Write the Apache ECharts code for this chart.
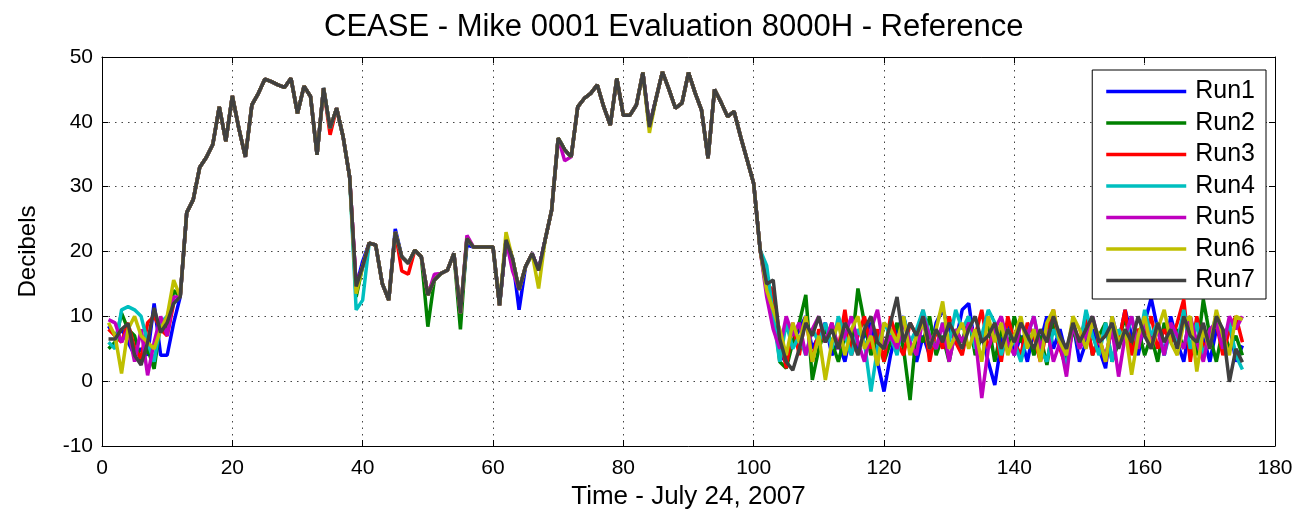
<!DOCTYPE html>
<html>
<head>
<meta charset="utf-8">
<script src="https://cdn.jsdelivr.net/npm/echarts@6/dist/echarts.min.js"></script>
<style>
html,body{margin:0;padding:0;background:#fff;}
#chart{width:1307px;height:522px;}
</style>
</head>
<body>
<div id="chart"></div>
<script>
// ---- data (x = sample index 1..175) ----
const seriesNames = ['Run1','Run2','Run3','Run4','Run5','Run6','Run7'];
const xTicks = [0,20,40,60,80,100,120,140,160,180];
const yTicks = [-10,0,10,20,30,40,50];

// x = 1..11 (individual runs)
const run1Head = [8.5, 7, 8, 6, 4, 5, 4, 12, 4, 4, 9];
const run2Head = [5, 6, 10.5, 8, 7, 3, 5, 1.9, 9, 8, 14];
const run3Head = [8, 7, 6, 9, 5, 3.5, 9, 10, 8, 7, 12];
const run4Head = [6, 5, 11, 11.5, 11, 10, 6, 3, 9, 10, 12];
const run5Head = [9.5, 9, 6, 8, 3, 8, 0.9, 6, 10, 7, 13];
const run6Head = [9, 7, 1.2, 8, 10, 7, 6, 5, 8, 10, 15.6];
const run7Head = [6.5, 6.5, 8, 8.9, 4, 2.5, 6, 11.3, 7.5, 9, 12];

// x = 12..38 (shared by all runs)
const trunk1 = [13, 26, 28, 33, 34.5, 36.5, 42.3, 37, 44, 39, 34.6, 42.6, 44.4, 46.6, 46.2, 45.7, 45.3, 46.7, 41.3, 45.5, 43.9, 34.9, 45.2, 39, 42.1, 37.7, 31.5];
// x = 39..68 (shared, with per-run deviations below)
const mid = [14.6, 17.7, 21.3, 21, 15.1, 12.5, 23, 19.2, 18.2, 20.2, 19.2, 13.3, 15.6, 16.6, 17.1, 19.7, 10.5, 22, 20.7, 20.7, 20.7, 20.7, 11.7, 21.8, 18.9, 14.1, 17.7, 19.7, 17.1, 21.8];
// x = 69..101 (shared)
const trunk2 = [26.4, 37.5, 35.7, 34.6, 42.3, 43.6, 44.4, 45.7, 42.3, 39.5, 46.7, 41, 41, 42.6, 47.6, 39.2, 43.5, 47.7, 45, 42.1, 42.9, 47.6, 44.5, 41.8, 34.4, 45, 43, 40.8, 41.6, 37.7, 34.1, 30.5, 20.2];

// per-run deviations from the shared part: [x, value]
const run1Fix = [[40, 18.5], [45, 23.5], [56, 21], [64, 11]];
const run2Fix = [[39, 13], [50, 8.4], [55, 8], [66, 19.5]];
const run3Fix = [[35, 38], [46, 17], [47, 16.5]];
const run4Fix = [[39, 11], [40, 12.5]];
const run5Fix = [[51, 16.5], [56, 22.5], [63, 17], [71, 34]];
const run6Fix = [[39, 13.5], [62, 23], [67, 14.3], [84, 38.3]];
const run7Fix = [];

// x = 102..175 (individual runs)
const run1Tail = [15, 13, 4, 3, 6, 8, 10, 5, 7, 9,
  4, 6, 3, 8, 5, 7, 9, 3, -1.6, 4,
  8, 10, 6, 3, 7, 4, 9, 11, 8, 6,
  11, 12, 5, 7, 3, -0.6, 6, 9, 4, 7,
  3, 8, 6, 10, 5, 8, 4, 9, 3, 6,
  8, 5, 2, 10, 6, 11, 7, 4, 9, 12.8,
  8, 4, 10, 6, 3, 9, 5, 7, 3, 8,
  6, 9, 3, 5.5];
const run2Tail = [14, 12, 3, 2, 6, 9, 13.3, 0.2, 5, 8,
  6, 3, 7, 5, 14.3, 9, 4, 7, 3, 6,
  9, 5, -2.9, 8, 6, 10, 4, 7, 3, 8,
  6, 10, 4, 7, 9, 3, 8, 5, 10, 6,
  8, 4, 7, 2.5, 9, 6, 3, 8, 5, 10,
  4, 7, 9, 3, 6, 10, 5, 8, 4, 7,
  3, 9, 6, 8, 5, 10, 4, 12.6, 7, 3,
  8, 5, 7, 4];
const run3Tail = [15, 14, 7, 2, 9, 4, 10, 3, 8, 6,
  9, 5, 11, 4, 7, 10, 5, 8, 3, 10,
  6, 4, 9, 7, 11, 3, 8, 5, 10, 6,
  4, 9, 7, 11, 5, 8, 3, 10, 6, 4,
  9, 7, 3, 8, 11, 5, 2, 9, 6, 10,
  4, 7, 3, 9, 6, 11, 4, 8, 7, 10,
  5, 8, 6, 9, 12.6, 3, 10, 5, 7, 9,
  4, 8, 10, 6];
const run4Tail = [17.8, 10, 3, 9, 5, 7, 4, 8, 6, 9,
  5, 10, 7, 4, 8, 6, -1.6, 5, 9, 7,
  4, 10, 6, 8, 11, 7, 5, 9, 6, 11,
  8, 10, 5, 7, 11, 9, 4, 8, 6, 3,
  7, 10, 5, 3, 8, 6, 2, 9, 5, 11,
  7, 4, 9, 3, 8, 6, 10, 5, 11, 7,
  9, 4, 8, 6, 11, 5, 9, 4, 7, 10,
  6, 9, 4, 1.8];
const run5Tail = [13, 8, 5, 10, 7, 9, 4, 8, 10, 6,
  9, 5, 7, 10, 6, 3, 8, 11, 5, 7,
  5, 9, 6, 4, 10, 7, 5, 9, 3, 8,
  6, 9, 7, -2.6, 5, 8, 10, 6, 4, 9,
  7, 10, 5, 8, 3, 6, 0.7, 9, 5, 7,
  10, 6, 4, 8, 0.7, 7, 10, 5, 9, 6,
  8, 4, 9, 7, 5, 10, 6, 3, 8, 9,
  5, 10, 8, 10];
const run6Tail = [14, 11, 8, 4, 9, 6, 10, 3, 7, 0.2,
  6, 9, 4, 8, 10, 5, 7, 2.4, 9, 8,
  6, 10, 4, 7, 9, 5, 8, 12.3, 5, 7,
  9, 5, 8, 3, 10, 6, 9, 4, 7, 10,
  5, 8, 3, 9, 11, 6, 4, 10, 8, 5,
  9, 7, 3, 10, 6, 8, 1, 7, 10, 5,
  8, 11, 6, 4, 9, 10, 1.5, 8, 5, 11,
  7, 4, 10, 9.5];
const run7Tail = [15, 15.6, 6.5, 3, 1.7, 5, 9, 7, 10, 6,
  8, 5, 9, 7, 4, 8, 10, 6, 5, 9,
  13, 6, 9, 7, 10, 5, 8, 6, 9, 7,
  5, 8, 10, 6, 7, 9, 5, 8, 6, 9,
  7, 5, 8, 6, 10, 7, 5, 9, 6, 8,
  10, 6, 7, 9, 5, 8, 6, 10, 7, 5,
  9, 6, 8, 5, 10, 7, 6, 9, 5, 10,
  8, -0.1, 5, 2.9];

const colors = ['#0000ff', '#008000', '#ff0000', '#00bfbf', '#bf00bf', '#bfbf00', '#404040'];

const heads = [run1Head, run2Head, run3Head, run4Head, run5Head, run6Head, run7Head];
const fixes = [run1Fix, run2Fix, run3Fix, run4Fix, run5Fix, run6Fix, run7Fix];
const tails = [run1Tail, run2Tail, run3Tail, run4Tail, run5Tail, run6Tail, run7Tail];

function buildRun(i) {
  const vals = [].concat(heads[i], trunk1, mid, trunk2, tails[i]);
  fixes[i].forEach(function (f) { vals[f[0] - 1] = f[1]; });
  return vals.map(function (v, k) { return [k + 1, v]; });
}

const FONT = '"Liberation Sans", Arial, sans-serif';
const tickStyle = { show: true, inside: true, length: 6, lineStyle: { color: '#000', width: 1 } };
const lineAx = { show: true, onZero: false, lineStyle: { color: '#000', width: 1 } };
const dotted = { show: true, lineStyle: { color: '#444', width: 1, type: [1.5, 5] } };

const chart = echarts.init(document.getElementById('chart'), null, { renderer: 'canvas' });
chart.setOption({
  animation: false,
  backgroundColor: '#fff',
  color: colors,
  title: {
    text: 'CEASE - Mike 0001 Evaluation 8000H - Reference',
    left: 319,
    top: 7,
    textStyle: { fontFamily: FONT, fontSize: 31, fontWeight: 'normal', color: '#000' }
  },
  legend: {
    orient: 'vertical',
    right: 41,
    top: 70,
    padding: [9, 11, 6, 14],
    icon: 'rect',
    itemWidth: 80,
    itemHeight: 3.5,
    itemGap: 6.5,
    backgroundColor: '#fff',
    borderColor: '#000',
    borderWidth: 1,
    borderRadius: 0,
    data: seriesNames,
    textStyle: { fontFamily: FONT, fontSize: 25, color: '#000', padding: [0, 0, 0, 4] }
  },
  grid: { left: 102, right: 32, top: 57, bottom: 76, containLabel: false },
  xAxis: [{
    type: 'value', min: xTicks[0], max: xTicks[xTicks.length - 1], interval: 20,
    name: 'Time - July 24, 2007', nameLocation: 'middle', nameGap: 38,
    nameTextStyle: { fontFamily: FONT, fontSize: 26, color: '#000' },
    axisLine: lineAx, axisTick: tickStyle, splitLine: dotted,
    axisLabel: { fontFamily: FONT, fontSize: 21, color: '#000', margin: 12 }
  }, {
    type: 'value', position: 'top', min: 0, max: 180, interval: 20,
    axisLine: lineAx, axisTick: tickStyle, splitLine: { show: false }, axisLabel: { show: false }
  }],
  yAxis: [{
    type: 'value', min: yTicks[0], max: yTicks[yTicks.length - 1], interval: 10,
    name: 'Decibels', nameLocation: 'middle', nameGap: 62, nameRotate: 90,
    nameTextStyle: { fontFamily: FONT, fontSize: 24, color: '#000' },
    axisLine: lineAx, axisTick: tickStyle, splitLine: dotted,
    axisLabel: { fontFamily: FONT, fontSize: 21, color: '#000', margin: 9 }
  }, {
    type: 'value', position: 'right', min: -10, max: 50, interval: 10,
    axisLine: lineAx, axisTick: tickStyle, splitLine: { show: false }, axisLabel: { show: false }
  }],
  series: seriesNames.map(function (name, i) {
    return {
      name: name, type: 'line', data: buildRun(i), symbol: 'none',
      xAxisIndex: 0, yAxisIndex: 0,
      lineStyle: { width: 3.5, color: colors[i] }, itemStyle: { color: colors[i] },
      z: 2 + i
    };
  })
});
</script>
</body>
</html>
